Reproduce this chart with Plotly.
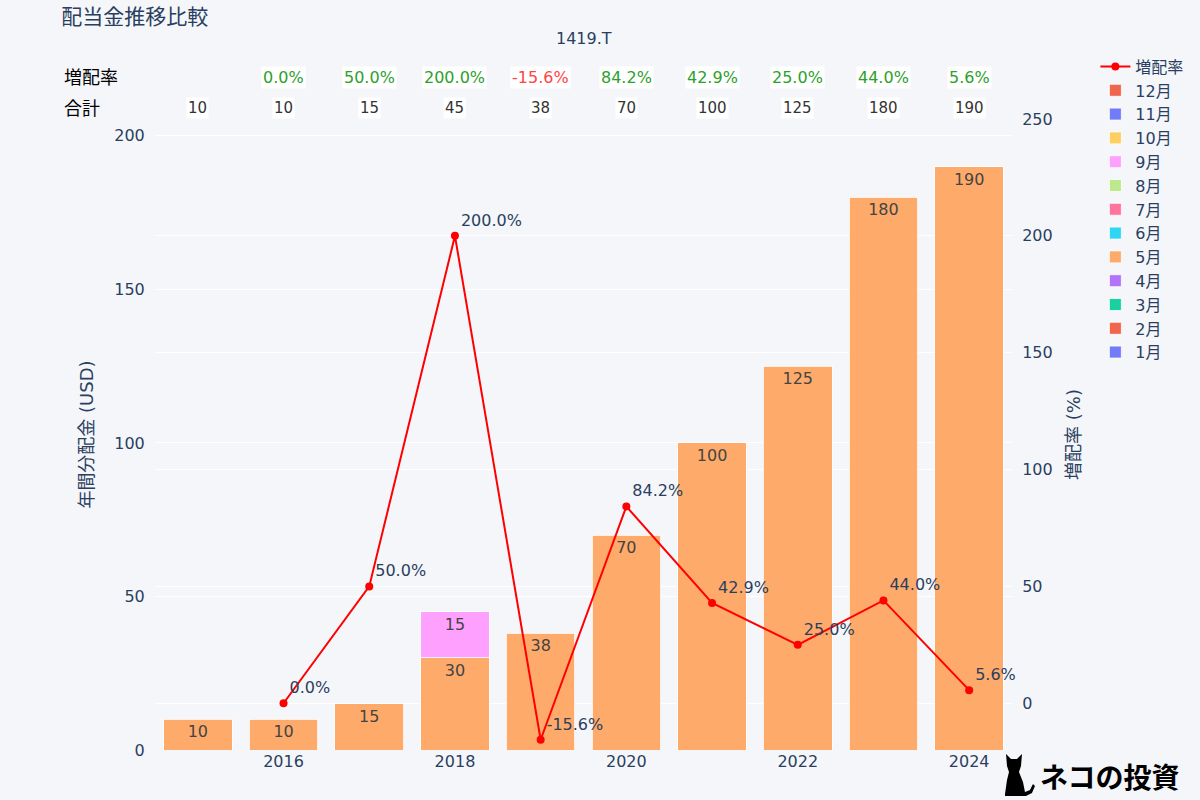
import plotly.graph_objects as go

years = [2015, 2016, 2017, 2018, 2019, 2020, 2021, 2022, 2023, 2024]
months = ["1月", "2月", "3月", "4月", "5月", "6月", "7月", "8月", "9月", "10月", "11月", "12月"]
monthly = {
    "5月": [10, 10, 15, 30, 38, 70, 100, 125, 180, 190],
    "9月": [None, None, None, 15, None, None, None, None, None, None],
}
totals = [10, 10, 15, 45, 38, 70, 100, 125, 180, 190]
growth = [None, 0.0, 50.0, 200.0, -15.6, 84.2, 42.9, 25.0, 44.0, 5.6]

colors = ["#636efa", "#EF553B", "#00cc96", "#ab63fa", "#FFA15A", "#19d3f3",
          "#FF6692", "#B6E880", "#FF97FF", "#FECB52", "#636efa", "#EF553B"]

BG = "#f5f6fa"
FONT = "DejaVu Sans, Noto Sans CJK JP, sans-serif"


def blend(hexc, a=0.9, bg=BG):
    c = [int(hexc[i:i + 2], 16) for i in (1, 3, 5)]
    b = [int(bg[i:i + 2], 16) for i in (1, 3, 5)]
    return "#" + "".join(f"{round(a * x + (1 - a) * y):02x}" for x, y in zip(c, b))


fig = go.Figure()
for m, c in zip(months, colors):
    vals = monthly.get(m, [None] * len(years))
    fig.add_trace(go.Bar(
        x=years, y=vals, name=m,
        marker=dict(color=blend(c), line=dict(width=0.8, color="#ffffff")),
        text=[("" if v is None else f"{v:g}") for v in vals],
        textposition="inside", textfont=dict(size=16),
        yaxis="y",
    ))

fig.add_trace(go.Scatter(
    x=years, y=growth, name="増配率", mode="lines+markers+text",
    line=dict(color="red", width=2), marker=dict(color="red", size=8),
    text=[("" if g is None else f"{g:.1f}%") for g in growth],
    textposition="top right", textfont=dict(size=16, color="#2a3f5f"),
    cliponaxis=False, yaxis="y2",
))

annotations = []
annotations.append(dict(text="増配率", x=-0.108, xref="paper", xanchor="left",
                        y=1.065, yref="paper", yanchor="middle", showarrow=False,
                        font=dict(size=18, color="black")))
annotations.append(dict(text="合計", x=-0.108, xref="paper", xanchor="left",
                        y=1.0174, yref="paper", yanchor="middle", showarrow=False,
                        font=dict(size=18, color="black")))
for yr, g, t in zip(years, growth, totals):
    if g is not None:
        annotations.append(dict(text=f"{g:.1f}%", x=yr, xref="x", y=1.065, yref="paper",
                                yanchor="middle", showarrow=False, bgcolor="white",
                                font=dict(size=16, color=("#2ca02c" if g >= 0 else "#ff4444"))))
    annotations.append(dict(text=f"{t}", x=yr, xref="x", y=1.0174, yref="paper",
                            yanchor="middle", showarrow=False, bgcolor="white",
                            font=dict(size=15, color="#333333")))
annotations.append(dict(text="1419.T", x=0.5, xref="paper", y=1.128, yref="paper",
                        yanchor="middle", showarrow=False, font=dict(size=16, color="#2a3f5f")))
annotations.append(dict(text="<b>ネコの投資</b>", x=(1182 - 155) / 858, xref="paper", xanchor="right",
                        y=-26 / 631, yref="paper", yanchor="middle",
                        showarrow=False, font=dict(size=28, color="black",
                                                   family="Noto Sans CJK JP")))


# small decorative cat silhouette for the logo (pixel -> paper)
def P(px, py):
    return f"{(px - 155) / 858:.5f},{(750 - py) / 631:.5f}"


cat_pts = [(1006, 794), (1008, 780), (1010, 772), (1008, 766), (1007, 754), (1012, 759),
           (1018, 759), (1023, 754), (1022, 766), (1020, 772), (1024, 782), (1026, 792),
           (1031, 790), (1034, 784), (1036, 786), (1033, 793), (1027, 796), (1006, 796)]
cat_path = "M " + " L ".join(P(x, y) for x, y in cat_pts) + " Z"

fig.update_layout(
    width=1200, height=800,
    barmode="stack", bargap=0.2,
    paper_bgcolor=BG, plot_bgcolor=BG,
    font=dict(family=FONT, color="#2a3f5f", size=16),
    margin=dict(l=155, r=187, t=119, b=50),
    title=dict(text="配当金推移比較", x=0.051, xanchor="left", y=0.979, yanchor="middle",
               font=dict(size=21, color="#2a3f5f")),
    xaxis=dict(range=[2014.5, 2024.5], tickmode="array", tickvals=[2016, 2018, 2020, 2022, 2024],
               showgrid=False, zeroline=False, tickfont=dict(size=16)),
    yaxis=dict(range=[0, 205.5], tickvals=[0, 50, 100, 150, 200], gridcolor="white",
               zeroline=False, title=dict(text="年間分配金 (USD)", font=dict(size=18)),
               tickfont=dict(size=16), ticks="outside", ticklen=6, tickcolor=BG),
    yaxis2=dict(range=[-20, 250], tickvals=[0, 50, 100, 150, 200, 250], overlaying="y",
                side="right", gridcolor="white", zeroline=False, showgrid=True,
                ticks="outside", ticklen=6, tickcolor=BG,
                title=dict(text="増配率 (%)", font=dict(size=18)), tickfont=dict(size=16)),
    legend=dict(x=1.096, xanchor="left", y=1.11, yanchor="top", traceorder="reversed",
                font=dict(size=16), bgcolor="rgba(0,0,0,0)"),
    annotations=annotations,
    shapes=[dict(type="path", path=cat_path, xref="paper", yref="paper",
                 fillcolor="black", line=dict(width=0), layer="above")],
)

fig.write_html("out.html", config={"displayModeBar": False})

with open("out.html", "r", encoding="utf-8") as f:
    html = f.read()
html = html.replace("<body>", '<body style="margin:0;padding:0;">', 1)
with open("out.html", "w", encoding="utf-8") as f:
    f.write(html)
